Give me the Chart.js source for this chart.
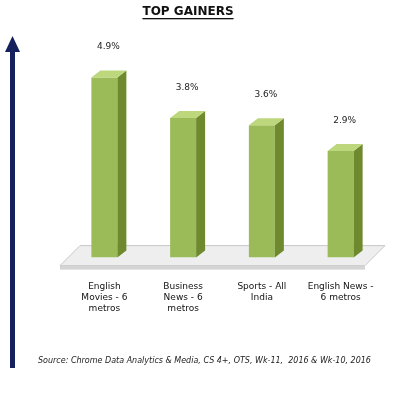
<!DOCTYPE html>
<html>
<head>
<script src="https://cdn.jsdelivr.net/npm/chart.js@4.4.1/dist/chart.umd.min.js"></script>
<style>
  html, body { margin: 0; padding: 0; background: #fff; }
</style>
</head>
<body>
<canvas id="chart" width="400" height="400"></canvas>
<script>
const categories = [["English", "Movies - 6", "metros"], ["Business", "News - 6", "metros"], ["Sports - All", "India"], ["English News -", "6 metros"]];
const gains = [4.9, 3.8, 3.6, 2.9];
const valueLabels = ["4.9%", "3.8%", "3.6%", "2.9%"];

const DEPTH_X = 9, DEPTH_Y = 7;

// draws floor, 3D sides, title, arrow and source note
const decor = {
    id: 'decor',
    beforeDatasetsDraw(chart) {
        const ctx = chart.ctx, a = chart.chartArea;
        ctx.save();
        // floor slab
        ctx.fillStyle = '#eeeeee';
        ctx.strokeStyle = '#c8c8c8';
        ctx.beginPath();
        ctx.moveTo(a.left - 5, a.bottom + 8);
        ctx.lineTo(a.right - 15, a.bottom + 8);
        ctx.lineTo(a.right + 5, a.bottom - 12);
        ctx.lineTo(a.left + 15, a.bottom - 12);
        ctx.closePath();
        ctx.fill(); ctx.stroke();
        ctx.fillStyle = '#d4d4d4';
        ctx.fillRect(a.left - 5, a.bottom + 8, a.right - a.left - 10, 4);
        ctx.restore();
    },
    afterDatasetsDraw(chart) {
        const ctx = chart.ctx;
        const meta = chart.getDatasetMeta(0);
        ctx.save();
        meta.data.forEach((bar, i) => {
            const l = bar.x - bar.width / 2, r = bar.x + bar.width / 2;
            const t = bar.y, b = bar.base;
            // side face
            ctx.fillStyle = '#6f8a2e';
            ctx.beginPath();
            ctx.moveTo(r, t); ctx.lineTo(r + DEPTH_X, t - DEPTH_Y);
            ctx.lineTo(r + DEPTH_X, b - DEPTH_Y); ctx.lineTo(r, b);
            ctx.closePath(); ctx.fill();
            // top face
            ctx.fillStyle = '#bcd77c';
            ctx.beginPath();
            ctx.moveTo(l, t); ctx.lineTo(l + DEPTH_X, t - DEPTH_Y);
            ctx.lineTo(r + DEPTH_X, t - DEPTH_Y); ctx.lineTo(r, t);
            ctx.closePath(); ctx.fill();
            ctx.fillStyle = '#222';
            ctx.font = '9px "DejaVu Sans"';
            ctx.textAlign = 'center';
            ctx.fillText(valueLabels[i], bar.x + 4, t - 28);
        });
        // title
        ctx.fillStyle = '#111';
        ctx.font = 'bold 12px "DejaVu Sans"';
        ctx.textAlign = 'center';
        ctx.fillText('TOP GAINERS', 188, 15);
        const w = ctx.measureText('TOP GAINERS').width;
        ctx.fillRect(188 - w / 2, 18, w, 1.3);
        // arrow
        ctx.fillStyle = '#14215e';
        ctx.fillRect(10, 50, 5, 318);
        ctx.beginPath();
        ctx.moveTo(5, 52); ctx.lineTo(12.5, 36); ctx.lineTo(20, 52);
        ctx.closePath(); ctx.fill();
        // source
        ctx.fillStyle = '#222';
        ctx.font = 'italic 8px "DejaVu Sans"';
        ctx.textAlign = 'left';
        ctx.fillText('Source: Chrome Data Analytics & Media, CS 4+, OTS, Wk-11,  2016 & Wk-10, 2016', 38, 363);
        ctx.restore();
    }
};

new Chart(document.getElementById('chart'), {
    type: 'bar',
    data: {
        labels: categories,
        datasets: [{
            data: gains,
            backgroundColor: '#9bbb59',
            borderWidth: 0,
            barPercentage: 0.33,
            categoryPercentage: 1
        }]
    },
    options: {
        responsive: false,
        animation: false,
        devicePixelRatio: 1,
        layout: { padding: { top: 37, left: 65, right: 20, bottom: 70 } },
        plugins: { legend: { display: false }, tooltip: { enabled: false } },
        scales: {
            x: {
                grid: { display: false },
                border: { display: false },
                ticks: { color: '#111', font: { size: 9, family: 'DejaVu Sans' }, padding: 16, maxRotation: 0 }
            },
            y: { display: false, min: 0, max: 6 }
        }
    },
    plugins: [decor]
});
</script>
</body>
</html>
